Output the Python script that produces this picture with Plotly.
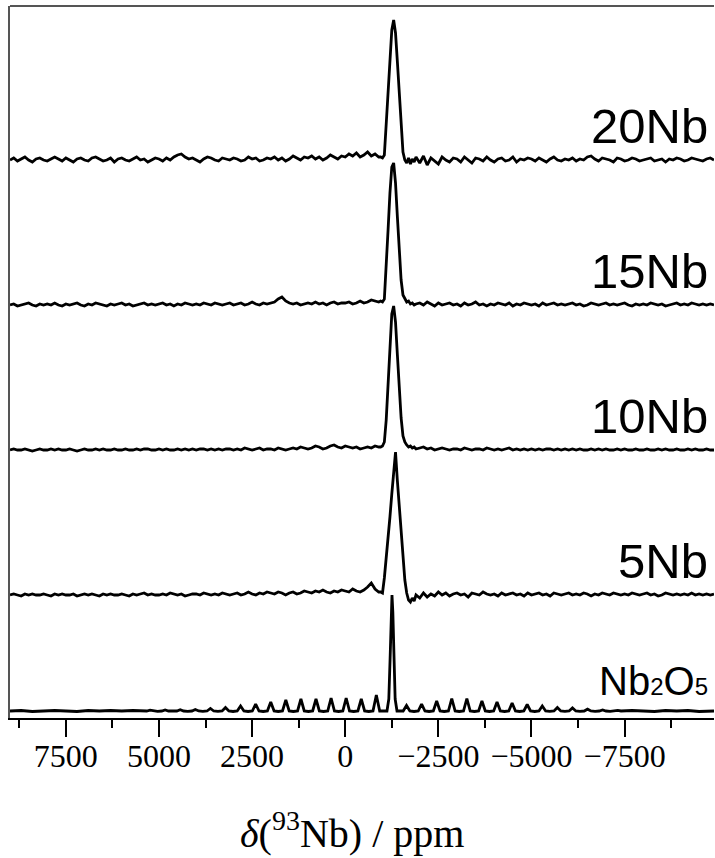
import numpy as np
import plotly.graph_objects as go

# ---------------- data ----------------
# shared chemical-shift sampling for the four glass spectra (ppm)
PPM_LEFT = list(range(9000, -901, -100))          # 100 points
PPM_PEAK = list(range(-950, -1901, -50))          # 20 points
PPM_RIGHT = list(range(-2000, -9901, -100))       # 80 points
PPM_GRID = PPM_LEFT + PPM_PEAK + PPM_RIGHT

NB20 = [
    0, 2, -1, 1, 3, 0, -2, 1, 2, 0,
    -1, 1, 3, 1, -1, 2, 0, -2, 1, 2,
    0, -1, 2, 3, 1, -1, 0, 2, -2, 1,
    2, 0, -1, 1, 3, 0, 1, -2, 0, 2,
    1, -1, 2, 0, 3, 5, 6, 3, 1, 2,
    0, -2, 1, 3, 2, 0, -1, 2, 1, 0,
    2, 1, -1, 0, 3, 1, 2, -1, 0, 2,
    1, 3, 0, 2, -1, 1, 4, 2, 0, 3,
    2, 4, 1, 3, 0, 2, 5, 3, 1, 4,
    3, 6, 4, 7, 3, 5, 8, 4, 6, 3,
    3, 2, 5, 36, 72, 107, 130, 140, 127, 98, 70, 37, 8, 0, -3, 2, -4, 1, -2, 3,
    -3, 4, -5, 2, -1, -4, 3, 0, -2, 2,
    1, -2, 3, 0, -3, 2, 1, -1, 3, 0,
    -2, 1, 2, -1, 0, 3, -2, 1, 0, 2,
    1, -1, 2, 0, -2, 1, 3, 0, -1, 1,
    0, 2, -1, 1, 0, 3, 4, 1, -1, 2,
    1, 0, -2, 2, 1, -1, 0, 2, 1, -1,
    0, 1, 2, -1, 0, 1, -2, 1, 0, 2,
    1, -1, 0, 2, 1, 0, -1, 1, 2, 0,
]

NB15 = [
    0, 1, -1, 0, 1, 2, 0, -1, 1, 0,
    1, 0, 2, 0, -1, 1, 0, 1, 2, 0,
    -1, 1, 0, 2, 1, 0, -1, 1, 0, 1,
    2, 0, 1, -1, 0, 1, 2, 0, 1, 0,
    1, 2, 0, 1, -1, 1, 0, 2, 1, 0,
    1, 0, 2, 1, 0, 2, 1, 0, 1, 2,
    0, 1, 2, 0, 1, 3, 1, 0, 2, 1,
    2, 3, 6, 8, 4, 2, 1, 2, 0, 1,
    2, 1, 3, 1, 2, 0, 2, 3, 1, 2,
    2, 3, 1, 2, 4, 2, 3, 5, 4, 3,
    4, 3, 6, 35, 75, 112, 138, 142, 122, 88, 55, 25, 10, 6, 3, 4, 1, 2, 0, 1,
    2, 0, 3, 1, -1, 2, 0, 1, 2, 0,
    1, -1, 2, 0, 1, 3, 0, 1, -1, 1,
    0, 2, 1, 0, 2, -1, 1, 0, 2, 1,
    0, 1, -1, 2, 0, 1, 2, 0, 1, 0,
    1, 2, 0, 1, -1, 0, 2, 1, 0, 1,
    2, 0, 1, 0, 1, 2, 0, -1, 1, 0,
    1, 0, 2, 1, 0, 1, -1, 0, 1, 2,
    0, 1, 0, 2, 1, 0, 1, 0, 1, 0,
]

NB10 = [
    0, 1, 0, 0, 1, 0, -1, 0, 1, 0,
    0, 1, 0, 1, 0, 0, 1, 0, -1, 0,
    1, 0, 0, 1, 0, 1, 0, 0, 1, 0,
    0, 1, 0, 0, 1, 0, 1, 1, 0, 0,
    1, 0, 1, 0, 0, 1, 0, 1, 0, 1,
    0, 1, 1, 0, 1, 0, 1, 0, 1, 1,
    0, 1, 0, 2, 1, 0, 1, 2, 0, 1,
    1, 0, 2, 1, 0, 1, 2, 1, 3, 2,
    1, 2, 4, 3, 1, 2, 4, 5, 3, 2,
    4, 3, 2, 3, 1, 2, 3, 2, 4, 3,
    3, 4, 8, 30, 70, 108, 136, 144, 128, 95, 62, 32, 14, 8, 5, 3, 4, 2, 3, 1,
    2, 3, 1, 2, 0, 1, 2, 1, 0, 1,
    1, 0, 2, 1, 0, 1, 1, 0, 2, 1,
    0, 1, 0, 1, 2, 0, 1, 0, 1, 0,
    1, 0, 1, 0, 1, 1, 0, 1, 0, 1,
    0, 1, 0, 1, 0, 0, 1, 0, 1, 0,
    1, 0, 0, 1, 0, 1, 0, 0, 1, 0,
    0, 1, 0, 0, 1, 0, 1, 0, 0, 1,
    0, 0, 1, 0, 1, 0, 0, 1, 0, 0,
]

NB5 = [
    0, 1, 0, -1, 1, 0, 1, 0, 0, 1,
    0, -1, 1, 0, 1, 0, 0, 1, -1, 0,
    1, 0, 1, 0, -1, 1, 0, 1, 0, 0,
    1, 0, -1, 1, 0, 1, 2, 0, 1, 0,
    0, 1, 0, 2, 1, 0, 1, -1, 0, 1,
    1, 0, 2, 1, 0, 1, 0, 2, 1, 0,
    1, 2, 0, 1, 3, 1, 0, 2, 1, 3,
    2, 1, 3, 2, 0, 2, 3, 1, 2, 4,
    3, 2, 4, 3, 5, 3, 2, 4, 3, 5,
    4, 3, 6, 4, 3, 5, 8, 12, 6, 3,
    3, 2, 17, 36, 55, 78, 101, 125, 143, 114, 89, 62, 38, 15, 2, -5, -7, -3, -6, 0,
    -3, 2, -2, 1, -1, 3, 0, 2, -1, 1,
    2, 0, 1, -2, 2, 1, 0, 3, 1, 0,
    1, -1, 2, 0, 1, 2, 0, 1, -1, 2,
    0, 1, 2, 0, 1, -1, 2, 1, 0, 1,
    2, 0, 1, 0, 2, 1, -1, 1, 0, 2,
    1, 0, 2, 1, 0, 1, 0, 2, 1, 0,
    1, 2, 0, 1, -1, 0, 2, 1, 0, 1,
    0, 1, 0, 2, 0, 1, 0, 1, 0, 1,
]

# crystalline Nb2O5: centre band plus spinning sidebands
NB2O5_PPM = [
    9000, 8700, 8400, 8100, 7800, 7500, 7200, 6900, 6600, 6300, 6000, 5700, 5450,
    5330, 5240, 5150, 5038,
    4925, 4835, 4745, 4633,
    4520, 4430, 4340, 4228,
    4115, 4025, 3935, 3823,
    3710, 3620, 3530, 3418,
    3305, 3215, 3125, 3013,
    2900, 2810, 2720, 2608,
    2495, 2405, 2315, 2203,
    2090, 2000, 1910, 1798,
    1685, 1595, 1505, 1393,
    1280, 1190, 1100, 988,
    875, 785, 695, 583,
    470, 380, 290, 178,
    65, -25, -115, -227,
    -340, -430, -520, -632,
    -745, -835, -925,
    -1120, -1170, -1205, -1232, -1255, -1278, -1305, -1340, -1390,
    -1555, -1645, -1735, -1847,
    -1960, -2050, -2140, -2252,
    -2365, -2455, -2545, -2657,
    -2770, -2860, -2950, -3062,
    -3175, -3265, -3355, -3467,
    -3580, -3670, -3760, -3872,
    -3985, -4075, -4165, -4277,
    -4390, -4480, -4570, -4682,
    -4795, -4885, -4975, -5087,
    -5200, -5290, -5380, -5492,
    -5605, -5695, -5785, -5897,
    -6010, -6100, -6190, -6302,
    -6415, -6505, -6595, -6707,
    -6820, -6910, -7000, -7112,
    -7225, -7315, -7405,
    -7700, -8000, -8300, -8600, -8900, -9200, -9500, -9900,
]
NB2O5 = [
    0, 0.5, -0.5, 0, 0.5, 0, -0.5, 0.5, 0, 0.5, 0, 0.5, 0,
    0, 0.8, 0, -0.3,
    0, 1.0, 0, -0.3,
    0, 1.2, 0, -0.3,
    0, 1.5, 0, -0.4,
    0, 2.5, 0, -0.4,
    0, 3.5, 0, -0.5,
    0, 5, 0, -0.5,
    0, 7, 0, -0.5,
    0, 9, 0, -0.5,
    0, 11, 0, -0.5,
    0, 12, 0, -0.5,
    0, 12, 0, -0.5,
    0, 13, 0, -0.5,
    0, 13, 0, -0.5,
    0, 12, 0, -0.5,
    0, 16, 0,
    0, 12, 53, 99, 116, 99, 53, 12, 0,
    0, 5.5, 0, -0.5,
    0, 7, 0, -0.5,
    0, 10, 0, -0.5,
    0, 12.5, 0, -0.5,
    0, 12.5, 0, -0.5,
    0, 10, 0, -0.5,
    0, 9, 0, -0.5,
    0, 8, 0, -0.5,
    0, 6.5, 0, -0.5,
    0, 5, 0, -0.4,
    0, 3.5, 0, -0.4,
    0, 3, 0, -0.3,
    0, 1.8, 0, -0.3,
    0, 1, 0, -0.3,
    0, 0.6, 0,
    0.5, 0, -0.5, 0.5, 0, 0.5, -0.5, 0,
]

SAMPLES = ["20Nb", "15Nb", "10Nb", "5Nb", "Nb2O5"]
LABELS = ["20Nb", "15Nb", "10Nb", "5Nb",
          "Nb<span style='font-size:24px'>2</span>O<span style='font-size:24px'>5</span>"]

X_TICKS = [7500, 5000, 2500, 0, -2500, -5000, -7500]
X_TICK_TEXT = ["7500", "5000", "2500", "0", "\u22122500", "\u22125000", "\u22127500"]
X_MINOR = [8750, 6250, 3750, 1250, -1250, -3750, -6250, -8750]

# ---------------- layout / style ----------------
OFFSETS = [558, 413, 268, 123, 7]
LABEL_DY = [34, 34, 34, 34, 30]
LABEL_SIZE = [49, 49, 49, 49, 40]

series_x = [PPM_GRID, PPM_GRID, PPM_GRID, PPM_GRID, NB2O5_PPM]
series_y = [NB20, NB15, NB10, NB5, NB2O5]
for sx, sy in zip(series_x, series_y):
    assert len(sx) == len(sy), (len(sx), len(sy))

fig = go.Figure()
for name, sx, sy, off in zip(SAMPLES, series_x, series_y, OFFSETS):
    fig.add_trace(go.Scatter(
        x=sx, y=np.array(sy, dtype=float) + off, mode="lines", name=name,
        line=dict(color="black", width=2.8), showlegend=False,
    ))

for lab, off, dy, fs in zip(LABELS, OFFSETS, LABEL_DY, LABEL_SIZE):
    fig.add_annotation(
        x=1, xref="paper", y=off + dy, yref="y", xanchor="right", yanchor="middle",
        xshift=-4, text=lab, showarrow=False,
        font=dict(family="Liberation Sans, Arial, sans-serif", size=fs, color="black"),
    )

fig.add_annotation(
    x=0.486, xref="paper", y=-0.158, yref="paper", xanchor="center", yanchor="middle",
    text="<i>δ</i>(<sup>93</sup>Nb) / ppm", showarrow=False,
    font=dict(family="Liberation Serif, Times New Roman, serif", size=40, color="black"),
)

fig.add_shape(type="line", xref="paper", yref="paper", x0=0, x1=1, y0=1, y1=1,
              line=dict(color="#555555", width=2))

fig.update_layout(
    width=715, height=858,
    margin=dict(l=10, r=1, t=6, b=140),
    paper_bgcolor="white", plot_bgcolor="white",
    xaxis=dict(
        range=[9000, -9900], showgrid=False, zeroline=False,
        showline=True, linecolor="black", linewidth=1.6,
        ticks="outside", ticklen=17, tickwidth=1.6, tickcolor="black",
        tickmode="array", tickvals=X_TICKS, ticktext=X_TICK_TEXT,
        tickfont=dict(family="Liberation Serif, Times New Roman, serif", size=32, color="black"),
        ticklabelstandoff=-8,
        minor=dict(ticks="outside", ticklen=8, tickwidth=1.6, tickcolor="black",
                   tickmode="array", tickvals=X_MINOR),
    ),
    yaxis=dict(
        range=[0, 712], showgrid=False, zeroline=False, showticklabels=False,
        ticks="", showline=True, linecolor="#555555", linewidth=1.6,
    ),
)

fig.write_html("out.html")
